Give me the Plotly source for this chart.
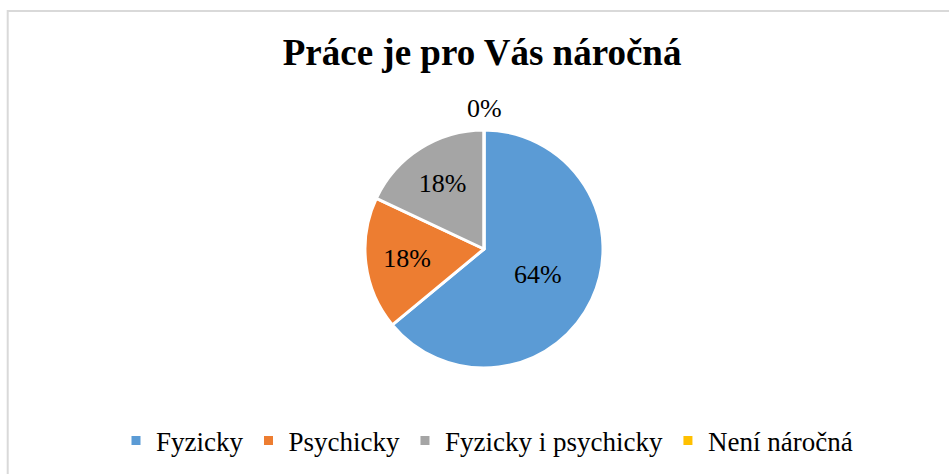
import plotly.graph_objects as go

categories = ["Fyzicky", "Psychicky", "Fyzicky i psychicky", "Není náročná"]
values = [64, 18, 18, 0]
colors = ["#5B9BD5", "#ED7D31", "#A5A5A5", "#FFC000"]
title_text = "Práce je pro Vás náročná"

W, H = 949, 474
FONT = "Liberation Serif, Times New Roman, serif"

total = sum(values)
pct_labels = [f"{round(100 * v / total)}%" for v in values]

dom_x = [365 / W, 603 / W]
dom_y = [106 / H, 344 / H]

# inside labels for non-zero slices, zero slice labelled above the pie top
text_pos = ["inside" if v > 0 else "none" for v in values]

fig = go.Figure(go.Pie(
    labels=categories,
    values=values,
    text=pct_labels,
    sort=False,
    direction="clockwise",
    rotation=0,
    marker=dict(colors=colors, line=dict(color="white", width=3)),
    texttemplate="%{text}",
    textposition=text_pos,
    insidetextorientation="horizontal",
    textfont=dict(family=FONT, size=26, color="black"),
    domain=dict(x=dom_x, y=dom_y),
    hoverinfo="label+percent",
))

annotations = []
for lab, v in zip(pct_labels, values):
    if v == 0:
        annotations.append(dict(
            text=lab, xref="paper", yref="paper",
            x=(dom_x[0] + dom_x[1]) / 2, y=dom_y[1], yshift=22,
            xanchor="center", yanchor="middle", showarrow=False,
            font=dict(family=FONT, size=26, color="black")))

fig.update_layout(
    width=W, height=H,
    margin=dict(l=0, r=0, t=0, b=0),
    paper_bgcolor="white",
    font=dict(family=FONT, color="black"),
    title=dict(text="<b>" + title_text + "</b>", x=0.508, xanchor="center",
               y=1 - 52 / H, yanchor="middle",
               font=dict(family=FONT, size=37, color="black")),
    legend=dict(orientation="h", x=487 / W, xanchor="center",
                y=1 - 441 / H, yanchor="middle",
                font=dict(family=FONT, size=27, color="black"),
                itemclick=False),
    annotations=annotations,
    shapes=[dict(type="rect", xref="paper", yref="paper",
                 x0=7.7 / W, x1=1.1, y0=-0.1, y1=1 - 11 / H,
                 line=dict(color="#D9D9D9", width=2))],
)

fig.write_html("out.html",
               config={"displayModeBar": False},
               post_script="document.body.style.margin='0';document.body.style.overflow='hidden';")
